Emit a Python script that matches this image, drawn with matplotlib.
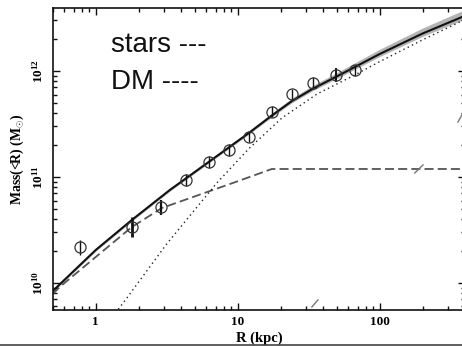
import numpy as np
import matplotlib
matplotlib.use("Agg")
import matplotlib.pyplot as plt
from matplotlib.lines import Line2D

plt.rcParams['mathtext.fontset'] = 'custom'
plt.rcParams['mathtext.rm'] = 'Liberation Serif:bold'
plt.rcParams['mathtext.it'] = 'Liberation Serif:italic:bold'
plt.rcParams['mathtext.bf'] = 'Liberation Serif:bold'

# ---- data (R in kpc, mass in solar masses) ----
obs_R = [0.78, 1.81, 2.9, 4.35, 6.28, 8.64, 11.9, 17.3, 23.9, 33.6, 49.0, 66.7]
obs_M = [2.2e10, 3.4e10, 5.2e10, 9.4e10, 1.39e11, 1.8e11, 2.4e11, 4.13e11,
         6.03e11, 7.76e11, 9.2e11, 1.02e12]
obs_lo = [1.84e10, 2.7e10, 4.4e10, 8.2e10, 1.22e11, 1.58e11, 2.14e11, 3.68e11,
          5.32e11, 6.9e11, 7.87e11, 8.97e11]
obs_hi = [2.55e10, 4.2e10, 6.1e10, 1.07e11, 1.58e11, 2.05e11, 2.72e11, 4.68e11,
          6.77e11, 8.78e11, 1.07e12, 1.14e12]

total_R = [0.498, 1.0, 1.793, 3.32, 6.25, 11.95, 17.35, 24.0, 33.7, 49.0, 100, 200, 378, 400]
total_M = [8.4e9, 2.05e10, 3.93e10, 7.54e10, 1.39e11, 2.6e11, 3.8e11, 5.2e11,
           6.8e11, 8.8e11, 1.45e12, 2.26e12, 3.23e12, 3.3e12]
band_up_dex = [0.012, 0.012, 0.012, 0.012, 0.015, 0.02, 0.024, 0.028, 0.032, 0.036,
               0.045, 0.052, 0.058, 0.058]
band_dn_dex = [0.012, 0.012, 0.012, 0.012, 0.012, 0.012, 0.014, 0.016, 0.018, 0.02,
               0.024, 0.027, 0.03, 0.03]

stars_R = [0.498, 0.558, 1.0, 1.793, 2.92, 6.67, 9.22, 17.35, 400]
stars_M = [7.87e9, 9.17e9, 1.76e10, 3.37e10, 5.1e10, 7.54e10, 8.78e10, 1.19e11, 1.19e11]

dm_R = [1.254, 1.653, 3.16, 7.11, 12.0, 20.4, 36.3, 64.5, 100, 200, 378, 400]
dm_M = [4.42e9, 7.2e9, 2.34e10, 8.78e10, 1.86e11, 3.6e11, 6.1e11, 8.97e11,
        1.23e12, 1.97e12, 2.97e12, 3.05e12]

frag_R = [[33.2, 36.6], [176, 201], [354, 378]]
frag_M = [[5.94e9, 6.92e9], [1.09e11, 1.3e11], [3.3e11, 3.85e11]]

xticks = [1, 10, 100]
xticklabels = ['1', '10', '100']
yticks = [1e10, 1e11, 1e12]
yticklabels = [r'$10^{10}$', r'$10^{11}$', r'$10^{12}$']

# ---- figure ----
fig = plt.figure(figsize=(4.62, 3.46), dpi=100)
ax = fig.add_axes([53/462, 1-310/346, (465-53)/462, (310-8)/346])
ax.set_xscale('log')
ax.set_yscale('log')
ax.set_xlim(0.5, 397)
ax.set_ylim(5.56e9, 3.93e12)

# gray band + total
tR = np.array(total_R)
tM = np.array(total_M)
ax.fill_between(tR, tM * 10**(-np.array(band_dn_dex)), tM * 10**(np.array(band_up_dex)),
                color='#b4b4b4', lw=0, zorder=1)
ax.plot(tR, tM, color='#111111', lw=1.5, zorder=3)

# stars (dashed)
ax.plot(stars_R, stars_M, color='#555555', lw=1.3, dashes=(5, 2.3), zorder=2)

# DM (dotted)
ax.plot(dm_R, dm_M, color='#222222', lw=1.0, linestyle=(0, (1, 2.4)), zorder=2)

# fragments
for fr, fm in zip(frag_R, frag_M):
    ax.plot(fr, fm, color='#777777', lw=1.0, zorder=2)

# data points
elw = [1.0, 2.0, 1.6, 1.0, 1.0, 1.0, 1.0, 1.0, 1.0, 1.0, 1.4, 1.0]
for r, m, lo, hi, w in zip(obs_R, obs_M, obs_lo, obs_hi, elw):
    ax.plot([r, r], [lo, hi], color='#111111', lw=w, zorder=4, solid_capstyle='butt')
ax.plot(obs_R, obs_M, linestyle='none', marker='o', ms=8, mfc='none',
        mec='#333333', mew=0.9, zorder=5)

# ticks
ax.set_xticks(xticks)
ax.set_xticklabels(xticklabels, fontfamily='Liberation Serif', fontweight='bold', fontsize=9.5)
ax.set_yticks(yticks)
ax.set_yticklabels(yticklabels, fontsize=9.5, rotation=90, va='center')
ax.tick_params(which='both', direction='in', top=True, right=True, width=1.0, color='#111111')
ax.tick_params(which='major', length=5, pad=4)
ax.tick_params(which='minor', length=2.8)
ax.tick_params(axis='y', which='major', pad=5)
for s in ax.spines.values():
    s.set_linewidth(1.2)
    s.set_color('#111111')

ax.set_xlabel('R (kpc)', fontfamily='Liberation Serif', fontweight='bold', fontsize=10.5, labelpad=2.5)
ax.set_ylabel(r'Mass(<R) (M$_{\odot}$)', fontfamily='Liberation Serif', fontweight='bold',
              fontsize=10, labelpad=4)

fig.text(111/462, 1-52/346, 'stars ---', fontfamily='Liberation Sans', fontsize=20,
         color='#111111', va='baseline', ha='left')
fig.text(111/462, 1-89/346, 'DM ----', fontfamily='Liberation Sans', fontsize=20,
         color='#111111', va='baseline', ha='left')

fig.add_artist(Line2D([0, 1], [1-344.5/346, 1-344.5/346], transform=fig.transFigure,
                      color='#444444', lw=1.2))

fig.savefig('out.png', dpi=100)
